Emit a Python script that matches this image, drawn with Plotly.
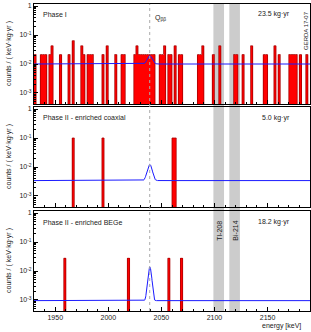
import numpy as np
import plotly.graph_objects as go

# ---------------- data ----------------
bin_width = 2.0  # keV
e_min, e_max = 1930, 2190
q_bb = 2039

panel_names = ["Phase I", "Phase II - enriched coaxial", "Phase II - enriched BEGe"]
exposures = [23.5, 5.0, 18.2]  # kg*yr
exposure_labels = ["23.5 kg·yr", "5.0 kg·yr", "18.2 kg·yr"]

# lower bin edges (keV) and event counts per 2 keV bin
phase1_bins = [1930, 1936, 1938, 1940, 1944, 1946, 1954, 1962, 1966, 1974,
               1976, 1980, 1982, 1984, 1994, 1998, 2006, 2012, 2014, 2024,
               2026, 2028, 2030, 2032, 2034, 2036, 2038, 2040, 2042, 2048,
               2050, 2052, 2056, 2058, 2062, 2066, 2068, 2084, 2086, 2088,
               2098, 2104, 2118, 2120, 2126, 2134, 2146, 2148, 2156, 2160,
               2170, 2172, 2174, 2176, 2180, 2186]
phase1_counts = [1, 1, 1, 1, 1, 2, 1, 1, 3, 2,
                 1, 1, 1, 1, 1, 2, 1, 1, 1, 1,
                 2, 1, 1, 1, 1, 1, 1, 1, 1, 1,
                 1, 2, 1, 1, 2, 1, 1, 1, 1, 2,
                 1, 2, 1, 1, 1, 2, 1, 1, 2, 1,
                 1, 1, 1, 1, 1, 1]
coax_bins = [1966, 1994, 2060, 2062]
coax_counts = [1, 1, 1, 1]
bege_bins = [1958, 2018, 2056, 2068]
bege_counts = [1, 1, 1, 1]

# fitted model: background level, signal amplitude at Qbb, gaussian sigma (keV)
fit_background = [0.0100, 0.0034, 0.00095]
fit_signal = [0.0095, 0.0089, 0.0130]
fit_sigma = [2.0, 2.0, 1.4]

# gamma lines (blinded bands)
band_names = ["Tl-208", "Bi-214"]
band_centers = [2104, 2119]
band_halfwidth = 5

x_ticks = [1950, 2000, 2050, 2100, 2150]
y_tickvals = [1e-3, 1e-2, 1e-1, 1]
y_ticktext = ["10<sup>-3</sup>", "10<sup>-2</sup>", "10<sup>-1</sup>", "1"]

# ---------------- figure ----------------
W, H = 311, 332
ml, mr, mt, mb = 34, 1, 4, 21
plot_h = H - mt - mb
plot_w = W - ml - mr

def pdom(top_px, bot_px):
    return [(H - mb - bot_px) / plot_h, (H - mb - top_px) / plot_h]

domains = [pdom(4, 104), pdom(107, 207), pdom(211, 311)]

FONT = "Liberation Sans, Arial, Helvetica, sans-serif"
TXT = "#222222"

fig = go.Figure()

all_bins = [phase1_bins, coax_bins, bege_bins]
all_counts = [phase1_counts, coax_counts, bege_counts]
nb = int((e_max - e_min) / bin_width)
edges = e_min + bin_width * np.arange(nb + 1)

for i in range(3):
    xa = "x" if i == 0 else f"x{i+1}"
    ya = "y" if i == 0 else f"y{i+1}"
    bins = np.array(all_bins[i], dtype=float)
    counts = np.array(all_counts[i], dtype=float)
    heights = counts / (exposures[i] * bin_width)
    fig.add_trace(go.Bar(
        x=bins + bin_width / 2, y=heights, width=bin_width,
        marker=dict(color="#ff0000", line=dict(width=0)),
        xaxis=xa, yaxis=ya, showlegend=False, hoverinfo="skip"))
    # histogram outline
    full = np.full(nb, 1e-7)
    idx = ((bins - e_min) / bin_width).astype(int)
    full[idx] = heights
    ys = np.append(full, full[-1])
    fig.add_trace(go.Scatter(
        x=edges, y=ys, mode="lines", line_shape="hv",
        line=dict(color="#a80000", width=0.8),
        xaxis=xa, yaxis=ya, showlegend=False, hoverinfo="skip"))
    # fit curve
    xc = np.linspace(e_min, e_max, 1301)
    yc = fit_background[i] + fit_signal[i] * np.exp(-0.5 * ((xc - q_bb) / fit_sigma[i]) ** 2)
    fig.add_trace(go.Scatter(
        x=xc, y=yc, mode="lines", line=dict(color="#1a1aff", width=1),
        xaxis=xa, yaxis=ya, showlegend=False, hoverinfo="skip"))

layout = dict(
    width=W, height=H,
    margin=dict(l=ml, r=mr, t=mt, b=mb, autoexpand=False),
    paper_bgcolor="white", plot_bgcolor="rgba(0,0,0,0)",
    bargap=0, barmode="overlay", showlegend=False,
    font=dict(family=FONT, size=7, color=TXT),
)

for i in range(3):
    xk = "xaxis" if i == 0 else f"xaxis{i+1}"
    yk = "yaxis" if i == 0 else f"yaxis{i+1}"
    ya = "y" if i == 0 else f"y{i+1}"
    layout[xk] = dict(
        domain=[0, 1], anchor=ya, range=[e_min, e_max], autorange=False,
        tickvals=x_ticks, ticks="inside", ticklen=4, tickcolor="black",
        showticklabels=(i == 2), showgrid=False, zeroline=False,
        showline=True, linecolor="black", linewidth=1, mirror=True,
        minor=dict(ticks="inside", ticklen=2, dtick=10, tickcolor="black"),
        tickfont=dict(size=7, color=TXT), automargin=False,
    )
    layout[yk] = dict(
        domain=domains[i], anchor="x" if i == 0 else f"x{i+1}",
        type="log", range=[-3.38, 0.07], autorange=False,
        tickvals=y_tickvals, ticktext=y_ticktext,
        ticks="inside", ticklen=4, tickcolor="black",
        showgrid=False, zeroline=False,
        showline=True, linecolor="black", linewidth=1, mirror=True,
        minor=dict(ticks="inside", ticklen=2, tickcolor="black",
                   tickvals=[m * 10.0 ** d for d in (-4, -3, -2, -1) for m in range(2, 10)]),
        tickfont=dict(size=7, color=TXT), automargin=False,
    )

fig.update_layout(**layout)

shapes = []
for c in band_centers:
    shapes.append(dict(type="rect", xref="x", yref="paper",
                       x0=c - band_halfwidth, x1=c + band_halfwidth, y0=0, y1=1,
                       fillcolor="#cccccc", line=dict(width=0), layer="below"))
shapes.append(dict(type="line", xref="x", yref="paper", x0=q_bb, x1=q_bb, y0=0, y1=1,
                   line=dict(color="#aaaaaa", width=1, dash="dot"), layer="above"))
fig.update_layout(shapes=shapes)

def px_x(x):
    return (x - ml) / plot_w

def px_y(y):
    return 1 - (y - mt) / plot_h

ann = []
title_y_px = [14, 118, 222]
for i in range(3):
    ann.append(dict(text=panel_names[i], xref="paper", yref="paper",
                    x=px_x(41), y=px_y(title_y_px[i]), xanchor="left", yanchor="middle",
                    showarrow=False, font=dict(size=7, color=TXT)))
    ann.append(dict(text=exposure_labels[i], xref="paper", yref="paper",
                    x=px_x(292), y=px_y(title_y_px[i]), xanchor="right", yanchor="middle",
                    showarrow=False, font=dict(size=7, color=TXT)))
    ymid = (domains[i][0] + domains[i][1]) / 2
    ann.append(dict(text="counts / ( keV·kg·yr )", xref="paper", yref="paper",
                    x=px_x(9), y=ymid, xanchor="center", yanchor="middle",
                    textangle=-90, showarrow=False, font=dict(size=7, color=TXT)))

ann.append(dict(text="Q<sub>ββ</sub>", xref="x", yref="paper", x=q_bb, xshift=3,
                y=px_y(18), xanchor="left", yanchor="middle",
                showarrow=False, font=dict(size=7, color=TXT)))
ann.append(dict(text="GERDA 17-07", xref="paper", yref="paper",
                x=px_x(306), y=px_y(31),
                xanchor="center", yanchor="middle", textangle=-90,
                showarrow=False, font=dict(size=6, color=TXT)))
for name, c in zip(band_names, band_centers):
    ann.append(dict(text=name, xref="x3", yref="paper", x=c,
                    y=px_y(231), xanchor="center", yanchor="middle",
                    textangle=-90, showarrow=False, font=dict(size=7, color=TXT)))
ann.append(dict(text="energy [keV]", xref="paper", yref="paper",
                x=px_x(303), y=px_y(326),
                xanchor="right", yanchor="middle",
                showarrow=False, font=dict(size=7, color=TXT)))
fig.update_layout(annotations=ann)

fig.write_html("out.html",
               config={"displayModeBar": False},
               post_script="document.body.style.margin='0';document.body.style.padding='0';")
